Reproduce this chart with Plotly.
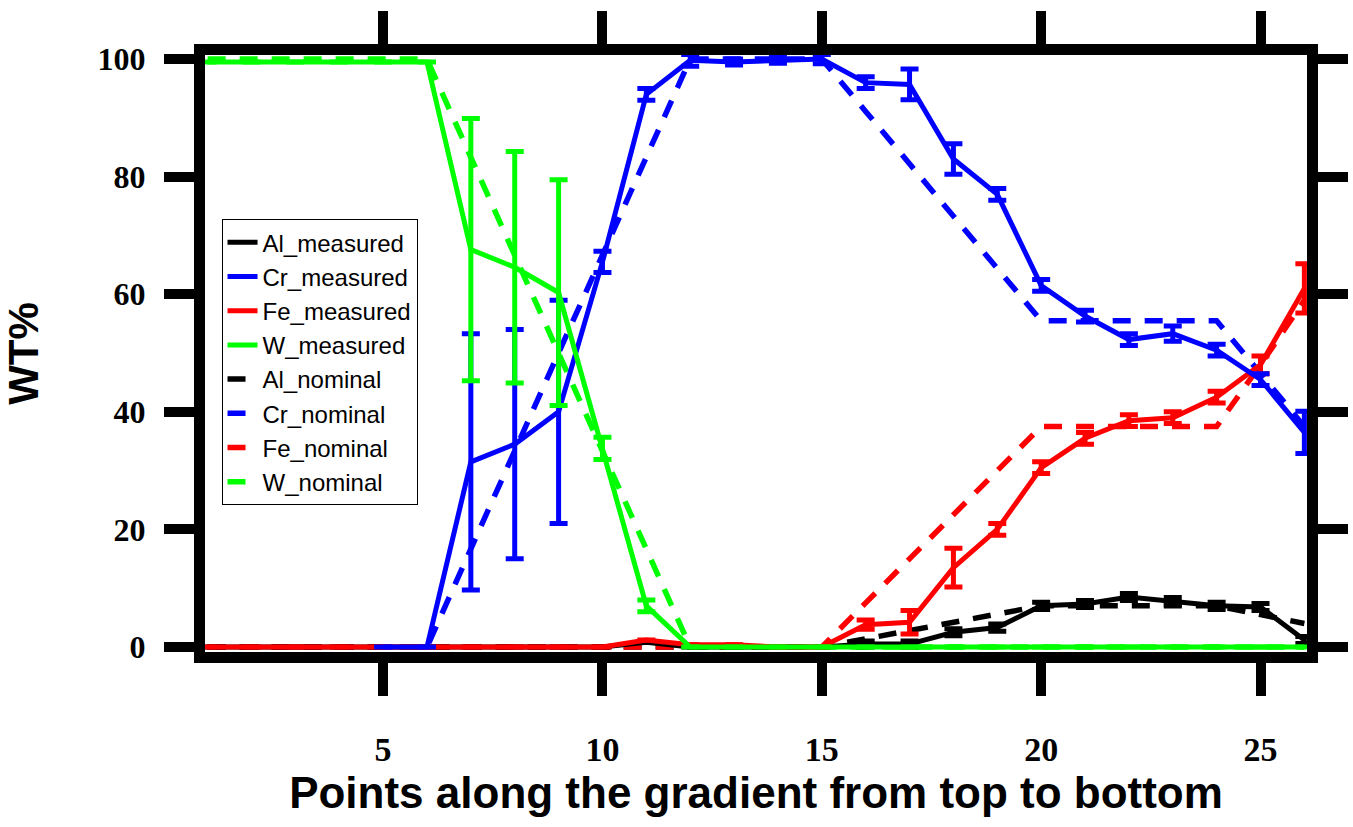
import plotly.graph_objects as go

# ---------------- data ----------------
x_points = list(range(1, 27))

al_measured = [0, 0, 0, 0, 0, 0, 0, 0, 0, 0, 0.8, 0, 0, 0, 0, 0.5, 0.5, 2.5, 3.3, 7.0, 7.3, 8.5, 7.8, 7.0, 6.8, 1.2]
al_measured_err = [0]*15 + [0.5, 0.5, 0.6, 0.6, 0.6, 0.6, 0.6, 0.6, 0.6, 0.6, 0.6]

cr_measured = [None, None, None, None, 0, 0, 31.5, 34.5, 40.0, 65.5, 94.0, 99.8, 99.5, 99.8, 100.0,
               96.0, 95.7, 83.0, 77.0, 61.5, 56.3, 52.3, 53.3, 50.5, 45.5, 36.5]
cr_measured_err = [0, 0, 0, 0, 0, 0, 21.8, 19.5, 19.0, 1.8, 1.0, 1.0, 0.5, 0.5, 0.8,
                   1.0, 2.6, 2.6, 1.0, 1.0, 1.0, 1.0, 1.3, 1.0, 1.0, 3.6]

fe_measured = [0, 0, 0, 0, 0, 0, 0, 0, 0, 0, 1.2, 0.4, 0.4, 0, 0, 3.8, 4.2, 13.5, 20.0, 30.5,
               35.5, 38.5, 39.0, 42.5, 48.0, 61.0]
fe_measured_err = [0]*15 + [0.8, 2.0, 3.3, 1.0, 1.0, 1.0, 1.0, 1.0, 1.0, 1.5, 4.2]

w_measured = [99.5, 99.5, 99.5, 99.5, 99.5, 99.5, 67.6, 64.6, 60.3, 33.8, 7.0] + [0]*15
w_measured_err = [0, 0, 0, 0, 0, 0, 22.3, 19.7, 19.2, 1.9, 1.0] + [0]*15

al_nominal = [0]*15 + [1.4, 2.8, 4.2, 5.6, 7.0, 7.0, 7.0, 7.0, 7.0, 5.5, 4.0]
cr_nominal = [0, 0, 0, 0, 0, 0, 16.7, 33.3, 50.0, 66.7, 83.3, 100, 100, 100, 100,
              91.1, 82.2, 73.3, 64.4, 55.5, 55.5, 55.5, 55.5, 55.5, 46.5, 37.5]
fe_nominal = [0]*15 + [7.5, 15.0, 22.5, 30.0, 37.5, 37.5, 37.5, 37.5, 37.5, 48.0, 59.0]
w_nominal = [100, 100, 100, 100, 100, 100, 83.3, 66.7, 50.0, 33.3, 16.7] + [0]*15

x_tickvals = [5, 10, 15, 20, 25]
y_tickvals = [0, 20, 40, 60, 80, 100]

BLACK = "#000000"
BLUE = "#0000FF"
RED = "#FF0000"
GREEN = "#00FF00"

fig = go.Figure()

DASH = "18px,14px"


def nominal(name, y, color, rank):
    fig.add_trace(go.Scatter(
        x=x_points, y=y, name=name, mode="lines", legendrank=rank,
        line=dict(color=color, width=5.5, dash=DASH),
    ))


def measured(name, y, err, color, rank):
    fig.add_trace(go.Scatter(
        x=x_points, y=y, name=name, mode="lines", legendrank=rank,
        line=dict(color=color, width=5),
        error_y=dict(type="data", array=err, visible=True, color=color,
                     thickness=5, width=9),
    ))


# drawing order (bottom -> top); legend order kept by legendrank
nominal("Al_nominal", al_nominal, BLACK, 5)
nominal("Cr_nominal", cr_nominal, BLUE, 6)
nominal("Fe_nominal", fe_nominal, RED, 7)
nominal("W_nominal", w_nominal, GREEN, 8)
measured("Al_measured", al_measured, al_measured_err, BLACK, 1)
measured("Fe_measured", fe_measured, fe_measured_err, RED, 3)
measured("Cr_measured", cr_measured, cr_measured_err, BLUE, 2)
measured("W_measured", w_measured, w_measured_err, GREEN, 4)

tick_font = dict(family="Liberation Serif", size=32, color="black", weight="bold")
xtick_font = dict(family="Liberation Serif", size=34, color="black", weight="bold")
title_font = dict(family="Liberation Sans", size=44, color="black", weight="bold")

fig.update_layout(
    width=1353, height=827,
    margin=dict(l=205, r=46, t=55, b=175),
    paper_bgcolor="white", plot_bgcolor="white",
    showlegend=True,
    legend=dict(
        x=0.015, y=0.725, xanchor="left", yanchor="top",
        bgcolor="white", bordercolor="black", borderwidth=1,
        font=dict(family="Liberation Sans", size=24, color="black"),
        traceorder="normal",
    ),
    xaxis=dict(
        range=[0.94, 26.06], tickvals=x_tickvals, ticktext=[str(v) for v in x_tickvals],
        showline=True, linewidth=11, linecolor="black", mirror="ticks",
        ticks="outside", ticklen=33, tickwidth=10, tickcolor="black",
        showgrid=False, zeroline=False, tickfont=xtick_font,
        ticklabelstandoff=24, automargin=False,
        title=dict(text="Points along the gradient from top to bottom", font=title_font, standoff=12),
    ),
    yaxis=dict(
        range=[-0.85, 100.7], tickvals=y_tickvals, ticktext=[str(v) for v in y_tickvals],
        showline=True, linewidth=11, linecolor="black", mirror="ticks",
        ticks="outside", ticklen=30, tickwidth=10, tickcolor="black",
        showgrid=False, zeroline=False, tickfont=tick_font,
        ticklabelstandoff=12, automargin=False,
        title=dict(text="WT%", font=dict(family="Liberation Sans", size=42, color="black", weight="bold"), standoff=50),
    ),
)

fig.write_html("out.html", config={"displayModeBar": False},
               post_script="document.body.style.margin='0';")
